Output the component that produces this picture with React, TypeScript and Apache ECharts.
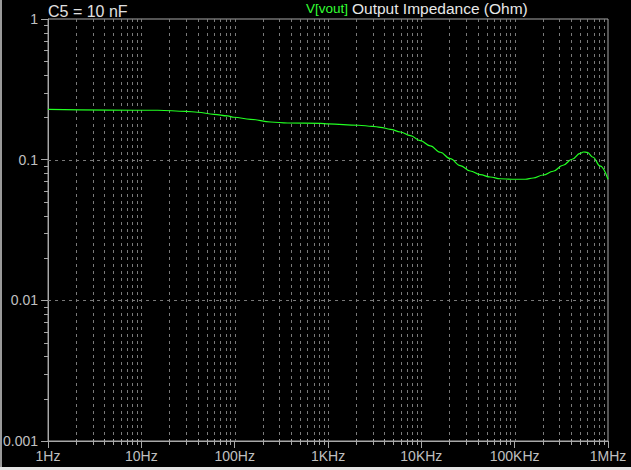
import React, { useEffect, useRef } from "react";
import * as echarts from "echarts";

// ---- data ----
const freqs = [
  1, 15, 30, 40, 60, 84, 98, 148, 243, 369, 832, 1000, 2120, 2990, 3640, 4660,
  5960, 7620, 9750, 12470, 15950, 20400, 26100, 33400, 42700, 54700, 70000,
  94000, 129500, 158000, 202000, 258000, 330000, 412000, 502000, 545000,
  600000, 692000, 821000, 1000000,
];
const impedance = [
  0.228, 0.2245, 0.2208, 0.2173, 0.2102, 0.2045, 0.2002, 0.1937, 0.1853,
  0.1823, 0.1814, 0.1794, 0.1756, 0.1727, 0.1699, 0.1644, 0.1573, 0.1482,
  0.1365, 0.1252, 0.1129, 0.1016, 0.0907, 0.0831, 0.0782, 0.0753, 0.0732,
  0.0726, 0.0726, 0.0741, 0.0778, 0.0827, 0.0913, 0.1007, 0.111, 0.1134,
  0.1127, 0.104, 0.0902, 0.0726,
];
const xTickLabels = ["1Hz", "10Hz", "100Hz", "1KHz", "10KHz", "100KHz", "1MHz"];
const yTickLabels = ["0.001", "0.01", "0.1", "1"];
const xDecades = [1, 10, 100, 1000, 10000, 100000];
const yDecades = [0.001, 0.01, 0.1];
const minorMultipliers = [2, 3, 4, 5, 6, 7, 8, 9];
const yGridLines = [0.01, 0.1];

const X_MIN = 1;
const X_MAX = 1000000;
const Y_MIN = 0.001;
const Y_MAX = 1;

const xMinor = xDecades.flatMap((d) => minorMultipliers.map((m) => d * m));
const xGrid = xMinor.concat(xDecades.slice(1));
const yMinor = yDecades.flatMap((d) => minorMultipliers.map((m) => d * m));

const FONT = '"Liberation Sans", Arial, sans-serif';
const GRID_COLOR = "#7a7a7a";
const AXIS_COLOR = "#a8a8a8";
const LABEL_COLOR = "#c0c0c0";

const crisp = (v: number) => Math.round(v) + 0.5;

export default function App() {
  const ref = useRef<HTMLDivElement>(null);

  useEffect(() => {
    document.body.style.margin = "0";
    if (!ref.current) return;
    const chart = echarts.init(ref.current, undefined, { renderer: "svg" });

    const option: any = {
      animation: false,
      backgroundColor: "#000000",
      grid: {
        left: 47,
        right: 23,
        top: 19,
        bottom: 29,
        show: true,
        borderColor: AXIS_COLOR,
        borderWidth: 1,
        backgroundColor: "transparent",
      },
      xAxis: {
        type: "log",
        logBase: 10,
        min: X_MIN,
        max: X_MAX,
        interval: 1,
        axisLine: { show: true, lineStyle: { color: AXIS_COLOR, width: 1 } },
        axisTick: { show: true, length: 7, lineStyle: { color: AXIS_COLOR } },
        splitLine: { show: false },
        minorTick: { show: false },
        axisLabel: {
          show: true,
          color: LABEL_COLOR,
          fontFamily: FONT,
          fontSize: 14,
          margin: 8,
          showMinLabel: true,
          showMaxLabel: true,
          formatter: (v: number) => xTickLabels[Math.round(Math.log10(v))] ?? "",
        },
      },
      yAxis: {
        type: "log",
        logBase: 10,
        min: Y_MIN,
        max: Y_MAX,
        interval: 1,
        axisLine: { show: true, lineStyle: { color: AXIS_COLOR, width: 1 } },
        axisTick: { show: true, length: 7, lineStyle: { color: AXIS_COLOR } },
        splitLine: { show: false },
        axisLabel: {
          show: true,
          color: LABEL_COLOR,
          fontFamily: FONT,
          fontSize: 14,
          margin: 10,
          showMinLabel: true,
          showMaxLabel: true,
          formatter: (v: number) =>
            yTickLabels[Math.round(Math.log10(v)) + 3] ?? "",
        },
      },
      graphic: [
        { type: "rect", left: 0, top: 0, shape: { width: 2, height: 470 }, style: { fill: "#9a9a9a" }, z: 100 },
        { type: "rect", left: 0, top: 467, shape: { width: 631, height: 3 }, style: { fill: "#e4e4e4" }, z: 100 },
        {
          type: "text",
          x: 48,
          y: 3,
          style: { text: "C5 = 10 nF", fill: "#e0e0e0", font: `16px ${FONT}`, verticalAlign: "top" },
        },
        {
          type: "text",
          x: 306,
          y: 1,
          style: { text: "V[vout]", fill: "#33ff33", font: `13.5px ${FONT}`, verticalAlign: "top" },
        },
        {
          type: "text",
          x: 352,
          y: 0,
          style: { text: "Output Impedance (Ohm)", fill: "#e8e8e8", font: `15.5px ${FONT}`, verticalAlign: "top" },
        },
      ],
      series: [
        {
          type: "custom",
          name: "vgrid",
          silent: true,
          z: 1,
          data: xGrid.map((v) => [v, 0.1]),
          renderItem: (_p: any, api: any) => {
            const v = api.value(0);
            const a = api.coord([v, Y_MAX]);
            const b = api.coord([v, Y_MIN]);
            const x = crisp(a[0]);
            return {
              type: "line",
              shape: { x1: x, y1: a[1], x2: x, y2: b[1] },
              style: { stroke: GRID_COLOR, lineWidth: 1, lineDash: [3, 4] },
            };
          },
        },
        {
          type: "custom",
          name: "hgrid",
          silent: true,
          z: 1,
          data: yGridLines.map((v) => [1, v]),
          renderItem: (_p: any, api: any) => {
            const v = api.value(1);
            const a = api.coord([X_MIN, v]);
            const b = api.coord([X_MAX, v]);
            const y = crisp(a[1]);
            return {
              type: "line",
              shape: { x1: a[0], y1: y, x2: b[0], y2: y },
              style: { stroke: GRID_COLOR, lineWidth: 1, lineDash: [3, 4] },
            };
          },
        },
        {
          type: "custom",
          name: "xminor",
          silent: true,
          z: 2,
          clip: false,
          data: xMinor.map((v) => [v, 0.1]),
          renderItem: (_p: any, api: any) => {
            const v = api.value(0);
            const a = api.coord([v, Y_MIN]);
            const x = crisp(a[0]);
            return {
              type: "line",
              shape: { x1: x, y1: a[1] - 2, x2: x, y2: a[1] + 4 },
              style: { stroke: AXIS_COLOR, lineWidth: 1 },
            };
          },
        },
        {
          type: "custom",
          name: "yminor",
          silent: true,
          z: 2,
          clip: false,
          data: yMinor.map((v) => [1, v]),
          renderItem: (_p: any, api: any) => {
            const v = api.value(1);
            const a = api.coord([X_MIN, v]);
            const y = crisp(a[1]);
            return {
              type: "line",
              shape: { x1: a[0] - 4, y1: y, x2: a[0], y2: y },
              style: { stroke: AXIS_COLOR, lineWidth: 1 },
            };
          },
        },
        {
          type: "line",
          name: "V(vout)",
          z: 5,
          data: freqs.map((f, i) => [f, impedance[i]]),
          symbol: "none",
          smooth: 0.4,
          smoothMonotone: "x",
          lineStyle: { color: "#22ff22", width: 1.2 },
        },
      ],
    };

    chart.setOption(option);
    return () => chart.dispose();
  }, []);

  return <div ref={ref} style={{ width: 631, height: 470, background: "#000" }} />;
}
